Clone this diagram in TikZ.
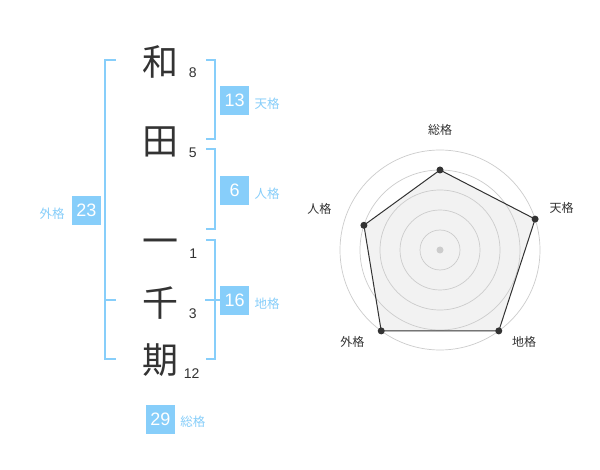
\documentclass[tikz,border=0pt]{standalone}
\usepackage{fontspec}
\setmainfont{Liberation Sans}
\newfontfamily\jp{Noto Sans CJK JP}
\usepackage{tikz}
\usetikzlibrary{positioning}
\definecolor{sky}{RGB}{135,206,250}
\definecolor{ink}{RGB}{51,51,51}
\definecolor{ring}{RGB}{204,204,204}
\definecolor{area}{RGB}{242,242,242}
\tikzset{
    kanji/.style={text=ink, inner sep=0pt, font=\jp\fontsize{36}{36}\selectfont},
    strokes/.style={text=ink, inner sep=0pt, font=\fontsize{14}{14}\selectfont},
    kakubox/.style={rectangle, fill=sky, text=white, minimum size=29pt, inner sep=0pt, font=\fontsize{18}{18}\selectfont},
    kakulabel/.style={text=sky, inner sep=0pt, font=\jp\fontsize{12.5}{12.5}\selectfont},
    bracket/.style={draw=sky, line width=2pt},
    axislabel/.style={text=ink, inner sep=0pt, font=\jp\fontsize{12}{12}\selectfont},
    radarline/.style={draw=ink, line width=1pt, line join=round},
    dot/.style={fill=ink}
}
\begin{document}
\begin{tikzpicture}[x=1pt, y=-1pt]
    \fill[white] (0,0) rectangle (600,470);
    \useasboundingbox (0,0) rectangle (600,470);

    % Name characters
    \node[kanji] (k1) at (160,61.7) {和};
    \node[kanji] (k2) at (160,141.7) {田};
    \node[kanji] (k3) at (160,246.5) {一};
    \node[kanji] (k4) at (160,303.3) {千};
    \node[kanji] (k5) at (160,360) {期};

    % Stroke counts
    \node[strokes] (s1) at (192.7,72.7) {8};
    \node[strokes] (s2) at (192.7,152.7) {5};
    \node[strokes] (s3) at (193.3,253.3) {1};
    \node[strokes] (s4) at (192.7,313.3) {3};
    \node[strokes] (s5) at (191.7,373.3) {12};

    % Brackets
    \draw[bracket] (206,60) -- (215,60) -- (215,139.5) -- (206,139.5);
    \draw[bracket] (206,149.5) -- (215,149.5) -- (215,229.5) -- (206,229.5);
    \draw[bracket] (206,240) -- (215,240) -- (215,359.5) -- (206,359.5);
    \draw[bracket] (205,300) -- (219.5,300);
    \draw[bracket] (115.5,60) -- (105,60) -- (105,359.5) -- (115.5,359.5);
    \draw[bracket] (105,300) -- (115.5,300);

    % Fortune boxes
    \node[kakubox] (ten) at (234.7,100.5) {13};
    \node[kakubox] (jin) at (234.7,190.5) {6};
    \node[kakubox] (chi) at (234.7,300.4) {16};
    \node[kakubox] (gai) at (86.5,210.4) {23};
    \node[kakubox] (sou) at (160.5,419.2) {29};

    \node[kakulabel, right=5pt of ten, yshift=-3.5pt] (tenl) {天格};
    \node[kakulabel, right=5pt of jin, yshift=-3.5pt] (jinl) {人格};
    \node[kakulabel, right=5pt of chi, yshift=-3.5pt] (chil) {地格};
    \node[kakulabel, left=7pt of gai, yshift=-3pt] (gail) {外格};
    \node[kakulabel, right=5pt of sou, yshift=-2.5pt] (soul) {総格};

    % Radar chart
    \coordinate (radar) at (440,250);
    \path (radar) ++(-90:80) coordinate (p1)
          (radar) ++(-18:100) coordinate (p2)
          (radar) ++(54:100) coordinate (p3)
          (radar) ++(126:100) coordinate (p4)
          (radar) ++(198:80) coordinate (p5);
    \fill[area] (p1) -- (p2) -- (p3) -- (p4) -- (p5) -- cycle;
    \foreach \r in {20,40,...,100}
        \draw[ring, line width=0.7pt] (radar) circle[radius=\r];
    \fill[ring] (radar) circle[radius=3.5];
    \draw[radarline] (p1) -- (p2) -- (p3) -- (p4) -- (p5) -- cycle;
    \foreach \p in {p1,p2,p3,p4,p5}
        \fill[dot] (\p) circle[radius=3.5];

    \node[axislabel] (a1) at (440,130) {総格};
    \node[axislabel] (a2) at (561.7,208) {天格};
    \node[axislabel] (a3) at (524,342) {地格};
    \node[axislabel] (a4) at (352.3,342) {外格};
    \node[axislabel] (a5) at (319.3,209) {人格};
\end{tikzpicture}
\end{document}
